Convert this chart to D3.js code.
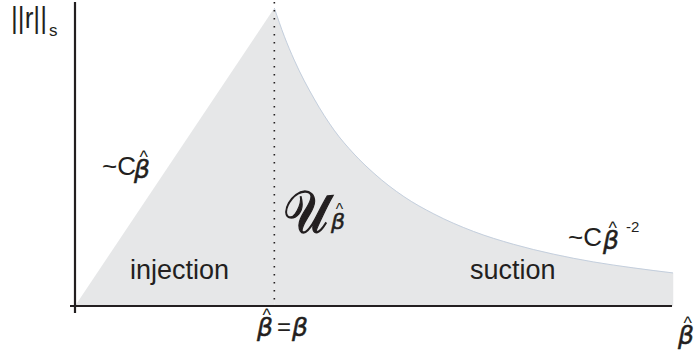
<!DOCTYPE html>
<html>
<head>
<meta charset="utf-8">
<script src="https://cdn.jsdelivr.net/npm/d3@7/dist/d3.min.js"></script>
<style>
  html, body { margin: 0; padding: 0; background: #fff; }
  svg { display: block; }
  text { font-family: "Liberation Sans", Arial, Helvetica, sans-serif; fill: #231f20; }
  .greek { font-family: "DejaVu Sans", sans-serif; font-style: italic; stroke: #231f20; stroke-width: 0.5; }
</style>
</head>
<body>
<svg id="chart" width="695" height="353"></svg>
<script>
// Normalised parameter beta-hat (peak at beta-hat = beta = 1) and the norm ||r||_s
// injection branch (linear growth) and suction branch (decay)
const betaInj = [0, 1];
const normInj = [0, 1];
const betaSuc = [1, 1.05, 1.1, 1.2, 1.3, 1.4, 1.5, 1.65, 1.8, 2.0, 2.2, 2.4, 2.6, 2.8, 3.0];
const normSuc = [1, 0.905, 0.825, 0.695, 0.59, 0.51, 0.445, 0.367, 0.309, 0.25, 0.207, 0.174, 0.148, 0.128, 0.111];
const regionLabels = ["injection", "suction"];
const peakBeta = 1;

const svg = d3.select("#chart");
const x = d3.scaleLinear().domain([0, 3]).range([75, 673]);
const y = d3.scaleLinear().domain([0, 1]).range([306, 8]);

const inj = betaInj.map((b, i) => ({ b, v: normInj[i] }));
const suc = betaSuc.map((b, i) => ({ b, v: normSuc[i] }));

const fill = "#e6e7e8";
// shaded admissible region: injection side
svg.append("path")
  .datum(inj)
  .attr("d", d3.area().x(d => x(d.b)).y0(y(0)).y1(d => y(d.v)))
  .attr("fill", fill);
// suction side
svg.append("path")
  .datum(suc)
  .attr("d", d3.area().x(d => x(d.b)).y0(y(0)).y1(d => y(d.v)).curve(d3.curveMonotoneX))
  .attr("fill", fill)
  .attr("stroke", fill).attr("stroke-width", 0.5);

// faint edge along the suction branch
svg.append("path")
  .datum(suc)
  .attr("d", d3.line().x(d => x(d.b)).y(d => y(d.v)).curve(d3.curveMonotoneX))
  .attr("fill", "none")
  .attr("stroke", "#b9c6d8")
  .attr("stroke-width", 0.8);

// dotted line at beta-hat = beta
svg.append("line")
  .attr("x1", x(peakBeta)).attr("x2", x(peakBeta))
  .attr("y1", 2).attr("y2", y(0))
  .attr("stroke", "#231f20")
  .attr("stroke-width", 1.6)
  .attr("stroke-dasharray", "1.4,6.6");

// axes
svg.append("line")
  .attr("x1", 70).attr("x2", x(3) - 1)
  .attr("y1", y(0)).attr("y2", y(0))
  .attr("stroke", "#231f20").attr("stroke-width", 2.2);
svg.append("line")
  .attr("x1", x(0)).attr("x2", x(0))
  .attr("y1", 2).attr("y2", 313)
  .attr("stroke", "#231f20").attr("stroke-width", 2.2);

// helper: italic beta with a hat above it, as one text element
function betaHatText(g, bx, by, size) {
  const t = g.append("text").attr("font-size", size);
  t.append("tspan")
    .attr("class", "greek")
    .attr("x", bx).attr("y", by)
    .text("β");
  t.append("tspan")
    .attr("x", bx + size * 0.22).attr("y", by - size * 0.62)
    .attr("font-size", size * 0.72)
    .text("^");
  return t;
}

// y-axis label ||r||_s
svg.append("text")
  .attr("x", 11).attr("y", 28)
  .attr("font-size", 30)
  .attr("textLength", 36)
  .attr("lengthAdjust", "spacingAndGlyphs")
  .text("||r||");
svg.append("text")
  .attr("x", 49).attr("y", 36)
  .attr("font-size", 17)
  .text("s");

// left asymptote ~C beta-hat
svg.append("text").attr("x", 102).attr("y", 175).attr("font-size", 26).text("~C");
betaHatText(svg, 134, 178, 25);

// right asymptote ~C beta-hat^-2
svg.append("text").attr("x", 568).attr("y", 246).attr("font-size", 26).text("~C");
betaHatText(svg, 603, 249, 25);
svg.append("text").attr("x", 626).attr("y", 232).attr("font-size", 15).text("-2");

// region labels
svg.append("text").attr("x", 130).attr("y", 279).attr("font-size", 27).text(regionLabels[0]);
svg.append("text").attr("x", 470).attr("y", 279).attr("font-size", 27).text(regionLabels[1]);

// set symbol U with subscript beta-hat
svg.append("text")
  .attr("x", 283).attr("y", 232)
  .attr("font-size", 58)
  .attr("textLength", 45)
  .attr("lengthAdjust", "spacingAndGlyphs")
  .attr("stroke", "#231f20").attr("stroke-width", 1.3)
  .style("font-family", "'DejaVu Serif', serif")
  .text("𝒰");
betaHatText(svg, 331, 229, 22);

// x-axis labels
betaHatText(svg, 257, 336, 25);
svg.append("text").attr("x", 277).attr("y", 335).attr("font-size", 24).text("=");
svg.append("text").attr("class", "greek").attr("x", 292).attr("y", 336).attr("font-size", 25).text("β");
betaHatText(svg, 678, 344, 25);
</script>
</body>
</html>
